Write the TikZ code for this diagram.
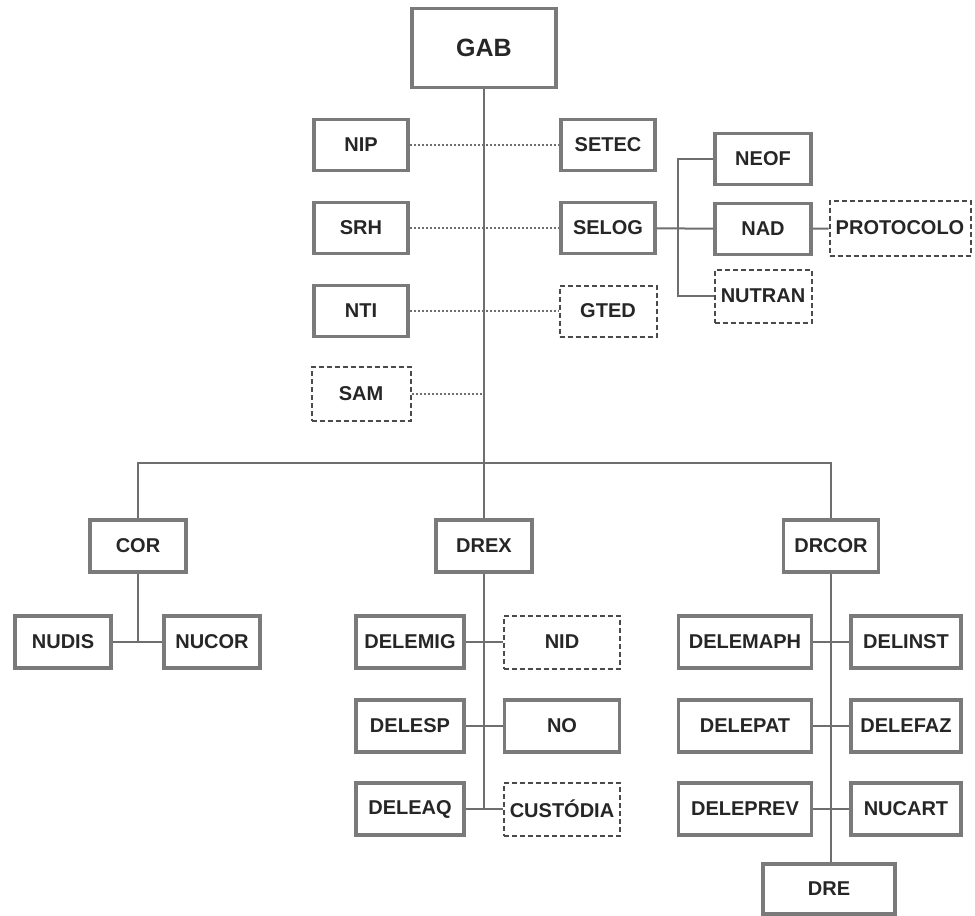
\documentclass[tikz,border=0pt]{standalone}
\usepackage{fontspec}
\setmainfont{Liberation Sans}
\usepackage{tikz}
\definecolor{boxgray}{HTML}{7A7A7A}
\definecolor{linegray}{HTML}{6E6E6E}
\definecolor{dashgray}{HTML}{4A4A4A}

\begin{document}
\begin{tikzpicture}[x=1pt,y=-1pt,
  unit/.style={draw=boxgray,line width=3.5pt,fill=white,inner sep=0pt,
    minimum width=94pt,minimum height=51pt,text=black!85,
    font=\fontsize{20}{24}\selectfont\bfseries},
  aux/.style={unit,draw=dashgray,line width=2pt,dash pattern=on 5pt off 3pt},
  link/.style={draw=linegray,line width=2pt},
  tie/.style={draw=linegray,line width=2pt,dash pattern=on 2.5pt off 1.5pt}]
\useasboundingbox (0,0) rectangle (975,916);
\node[unit,minimum width=144pt,minimum height=79pt,font=\fontsize{25}{30}\selectfont\bfseries] (gab) at (484,48) {GAB};
\node[unit] (nip) at (361,145) {NIP};
\node[unit] (setec) at (608,145) {SETEC};
\node[unit] (srh) at (361,228) {SRH};
\node[unit] (selog) at (608,228) {SELOG};
\node[unit] (nti) at (361,311) {NTI};
\node[aux,minimum width=97pt] (gted) at (608,311) {GTED};
\node[aux,minimum width=99pt,minimum height=54pt] (sam) at (361,394) {SAM};
\node[unit,minimum width=96pt] (neof) at (763,159) {NEOF};
\node[unit,minimum width=96pt] (nad) at (763,229) {NAD};
\node[aux,minimum width=97pt,minimum height=53pt] (nutran) at (763,296) {NUTRAN};
\node[aux,minimum width=141pt,minimum height=55pt] (protocolo) at (900,228) {PROTOCOLO};
\node[unit,minimum width=96pt,minimum height=52pt] (cor) at (138,546) {COR};
\node[unit,minimum width=96pt,minimum height=52pt] (drex) at (484,546) {DREX};
\node[unit,minimum width=95pt,minimum height=52pt] (drcor) at (831,546) {DRCOR};
\node[unit,minimum width=96pt,minimum height=52pt] (nudis) at (63,642) {NUDIS};
\node[unit,minimum width=96pt,minimum height=52pt] (nucor) at (212,642) {NUCOR};
\node[unit,minimum width=108pt,minimum height=52pt] (delemig) at (410,642) {DELEMIG};
\node[aux,minimum width=116pt,minimum height=53pt] (nid) at (562,642) {NID};
\node[unit,minimum width=108pt,minimum height=52pt] (delesp) at (410,726) {DELESP};
\node[unit,minimum width=115pt,minimum height=52pt] (no) at (562,726) {NO};
\node[unit,minimum width=108pt,minimum height=52pt] (deleaq) at (410,809) {DELEAQ};
\node[aux,minimum width=116pt,minimum height=53pt] (custodia) at (562,809) {CUSTÓDIA};
\node[unit,minimum width=133pt,minimum height=52pt] (delemaph) at (745,642) {DELEMAPH};
\node[unit,minimum width=110pt,minimum height=52pt] (delinst) at (906,642) {DELINST};
\node[unit,minimum width=133pt,minimum height=52pt] (delepat) at (745,726) {DELEPAT};
\node[unit,minimum width=110pt,minimum height=52pt] (delefaz) at (906,726) {DELEFAZ};
\node[unit,minimum width=133pt,minimum height=52pt] (deleprev) at (745,809) {DELEPREV};
\node[unit,minimum width=110pt,minimum height=52pt] (nucart) at (906,809) {NUCART};
\node[unit,minimum width=132pt,minimum height=50pt] (dre) at (829,889) {DRE};
\coordinate (bus) at (484,463);
\coordinate (fork) at (678,228);
\draw[link] (gab) -- (drex);
\draw[link] (cor) |- (bus) -| (drcor);
\draw[tie] (nip) -- (setec);
\draw[tie] (srh) -- (selog);
\draw[tie] (nti) -- (gted);
\draw[tie] (sam.east) -- (sam.east -| gab.south);
\draw[link] (selog) -- (nad);
\draw[link] (neof.west) -| (fork) |- (nutran.west);
\draw[link] (nad) -- (protocolo);
\draw[link] (cor) -- (cor |- nucor);
\draw[link] (nudis) -- (nucor);
\draw[link] (drex) -- (drex.south |- deleaq);
\draw[link] (delemig) -- (nid);
\draw[link] (delesp) -- (no);
\draw[link] (deleaq) -- (custodia);
\draw[link] (drcor) -- (drcor.south |- dre.north);
\draw[link] (delemaph) -- (delinst);
\draw[link] (delepat) -- (delefaz);
\draw[link] (deleprev) -- (nucart);
\end{tikzpicture}
\end{document}
